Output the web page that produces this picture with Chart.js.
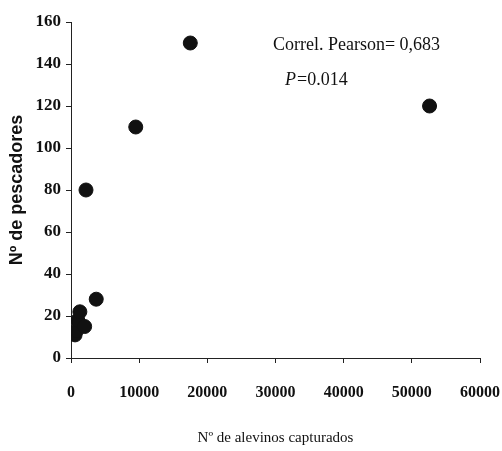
<!DOCTYPE html>
<html>
<head>
<meta charset="utf-8">
<script src="https://cdn.jsdelivr.net/npm/chart.js@4"></script>
<style>
  body { margin: 0; background: #fff; }
  canvas { display: block; }
</style>
</head>
<body>
<canvas id="chart" width="502" height="451"></canvas>
<script>
// Data
const alevinos = [600, 800, 1000, 1300, 2000, 3700, 2200, 9500, 17500, 52600];
const pescadores = [11, 13, 18, 22, 15, 28, 80, 110, 150, 120];
const xTicks = [0, 10000, 20000, 30000, 40000, 50000, 60000];
const yTicks = [0, 20, 40, 60, 80, 100, 120, 140, 160];

const points = alevinos.map((x, i) => ({ x: x, y: pescadores[i] }));

// Correlation text in the upper right
const notes = {
  id: "notes",
  afterDraw(chart) {
    const ctx = chart.ctx;
    ctx.save();
    ctx.fillStyle = "#111";
    ctx.textBaseline = "middle";
    ctx.font = "18px 'Liberation Serif'";
    ctx.fillText("Correl. Pearson= 0,683", 273, 45);
    ctx.font = "italic 18px 'Liberation Serif'";
    ctx.fillText("P", 285, 80);
    let w = ctx.measureText("P").width;
    ctx.font = "18px 'Liberation Serif'";
    ctx.fillText("=0.014", 285 + w + 1, 80);
    ctx.restore();
  }
};

new Chart(document.getElementById("chart"), {
  type: "scatter",
  data: {
    datasets: [{
      data: points,
      backgroundColor: "#111",
      borderColor: "#111",
      pointRadius: 7,
      pointHoverRadius: 7
    }]
  },
  options: {
    responsive: false,
    animation: false,
    layout: { padding: { top: 22, right: 22, left: 0, bottom: 0 } },
    plugins: { legend: { display: false }, tooltip: { enabled: false } },
    scales: {
      x: {
        min: 0,
        max: 60000,
        afterFit: s => { s.height = 93; s.paddingLeft = 0; s.paddingRight = 0; },
        afterBuildTicks: s => { s.ticks = xTicks.map(v => ({ value: v })); },
        grid: { drawOnChartArea: false, tickLength: 5, color: "#222" },
        border: { color: "#222", width: 1 },
        ticks: {
          color: "#111",
          padding: 20,
          maxRotation: 0,
          font: { family: "'Liberation Serif'", size: 16, weight: "bold" },
          callback: v => String(v)
        },
        title: {
          display: true,
          text: "Nº de alevinos capturados",
          color: "#111",
          font: { family: "'Liberation Serif'", size: 15 },
          padding: { top: 12, bottom: 4 }
        }
      },
      y: {
        min: 0,
        max: 160,
        afterFit: s => { s.width = 71; },
        afterBuildTicks: s => { s.ticks = yTicks.map(v => ({ value: v })); },
        grid: { drawOnChartArea: false, tickLength: 5, color: "#222" },
        border: { color: "#222", width: 1 },
        ticks: {
          color: "#111",
          padding: 5,
          font: { family: "'Liberation Serif'", size: 17, weight: "bold" }
        },
        title: {
          display: true,
          text: "Nº de pescadores",
          color: "#111",
          font: { family: "'Liberation Sans'", size: 18, weight: "bold" },
          padding: { top: 6, bottom: 0 }
        }
      }
    }
  },
  plugins: [notes]
});
</script>
</body>
</html>
